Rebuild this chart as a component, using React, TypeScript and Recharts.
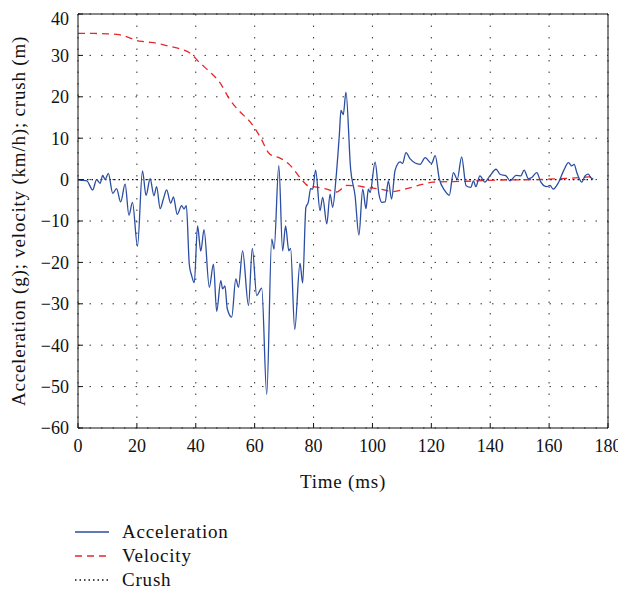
import { CartesianGrid, Legend, Line, LineChart, XAxis, YAxis } from 'recharts';

// time (ms) / acceleration (g) samples
const accelTime = [
  0, 0.7, 3, 5, 6.3, 7.5, 8.4, 9.2, 10.3, 11.8, 13.1, 14.5, 16, 17.3, 18.5, 20.2, 21.9, 23.1, 24.5, 25.8,
  26.7, 27.9, 29, 30.1, 31.5, 32.4, 33.7, 35.2, 36, 36.8, 37.8, 38.6, 39.5, 40.6, 41.7, 42.8, 44.6, 46,
  47.1, 48.5, 49.1, 49.9, 50.7, 52.2, 53.6, 54.5, 55.9, 57.9, 59.2, 60.7, 62.4, 64.1, 65.8, 66.6, 68.2,
  69.5, 70.5, 71.6, 72.2, 73.6, 75.4, 76.3, 77.4, 78.2, 79, 79.7, 80.7, 82.2, 83.1, 84.5, 85.6, 86.5,
  87.6, 88.8, 89.3, 90.1, 91, 92.6, 94.1, 95.4, 96.7, 97.8, 98.6, 99.2, 100.9, 102.2, 103.2, 104.3,
  105.4, 106.5, 107.7, 109.4, 110.2, 111.4, 112.8, 116.2, 117.9, 120.1, 121.3, 122.7, 124.6, 126.1,
  127.5, 128.8, 130.3, 131.8, 133.4, 134.3, 135.1, 136.5, 138.2, 139.7, 142, 143.3, 145.4, 146.7,
  148.8, 150.4, 151.5, 153, 154.1, 155.8, 157.2, 159.2, 160.3, 161.4, 163.2, 164.9, 166.6, 167.7,
  168.5, 169.4, 171.1, 172.2, 173.3, 174.1, 175,
];
const accelG = [
  0, -0.1, -0.3, -2.5, 0, -0.9, 1, 0, 1.5, -3.3, -2.2, -5.4, -1.1, -8.6, -5.5, -16.1, 2.1, -3.8, 0.2, -3.9,
  -1.7, -7, -4.7, -2.5, -5.7, -4.2, -8.4, -6.3, -7.1, -6.3, -20.5, -23.2, -24.9, -11.2, -17.3, -12.1, -26, -20.4,
  -31.8, -24.4, -26.4, -25.7, -31.2, -33.2, -24, -26, -17.2, -30.4, -16.6, -28, -26.2, -51.9, -14.4, -16.8, 3.4,
  -17.2, -11.2, -17.2, -16.6, -36.2, -20.2, -25, -6.7, -5.5, -2.2, -2.3, 2.3, -7.5, -4.3, -10.7, -3.5, -6.7,
  0.1, 11.3, 16.7, 15.7, 21.1, 2.5, -3.9, -13.4, -2.3, -7, -2.3, -3.1, 4.2, -3.5, -5.5, -5.4,
  -0.3, -4.7, 2.3, 4.3, 3.9, 6.5, 5, 3.7, 5.3, 3.9, 5.8, 0.2, -2.7, -3.8,
  1.7, 0.1, 5.5, -1.5, -1.9, -0.3, -1.7, 0.9, -0.6, 0.7, 2.5, 1.3, 0.9, -0.3,
  1, 0.9, 2.3, 0.2, 0.5, 1.7, -0.6, -1.7, -1.4, -2.3, -0.7, 2.1, 4.1, 3.3,
  3.7, 1.7, -0.6, 0.9, 1.3, 0.5, 0.1,
];

// time (ms) / velocity (km/h)
const velTime = [
  0, 5, 10, 14, 17.7, 20, 22.7, 27.8, 31, 34.6, 38, 41.4, 44.8, 48.2, 51.6, 55, 58.4, 61.8, 65.2, 68.6,
  72, 75.4, 78.2, 81, 84.5, 87.8, 91.3, 94.6, 98, 102.6, 107, 111.6, 115.6, 120.7, 132, 143.3, 154.6, 166, 174.4,
];
const velKmh = [
  35.3, 35.3, 35.2, 35, 34.2, 33.6, 33.3, 32.8, 32.2, 31.6, 30.6, 28.2, 26, 23.4, 19.3, 16.4, 14, 10.4, 6.1, 5.2,
  3.5, 0.5, -1.5, -1.8, -2.3, -3, -1.4, -1.5, -1.9, -2.3, -2.9, -2.2, -1.4, -0.6, -0.4, -0.1, 0, 0.3, 0.7,
];

// time (ms) / crush (m)
const crushTime = [0, 50, 100, 150, 175];
const crushM = [0, 0, 0, 0, 0];

const xTicks = [0, 20, 40, 60, 80, 100, 120, 140, 160, 180];
const yTicks = [-60, -50, -40, -30, -20, -10, 0, 10, 20, 30, 40];

const accel = accelTime.map((t, i) => ({ t, v: accelG[i] }));
const velocity = velTime.map((t, i) => ({ t, v: velKmh[i] }));
const crush = crushTime.map((t, i) => ({ t, v: crushM[i] }));

const FONT = '"Liberation Serif", "Times New Roman", serif';
const tickStyle = { fill: '#111', fontSize: 18, fontFamily: FONT };
const titleStyle = { fill: '#111', fontSize: 19, fontFamily: FONT, letterSpacing: 0.8, textAnchor: 'middle' as const };

const legendItems = [
  { name: 'Acceleration', color: '#2b4ea2', dash: undefined },
  { name: 'Velocity', color: '#e8262b', dash: '7 5' },
  { name: 'Crush', color: '#111', dash: '1.5 3' },
];

function ChartLegend() {
  return (
    <div style={{ fontFamily: FONT, fontSize: 19, letterSpacing: 0.8, color: '#111' }}>
      {legendItems.map((it) => (
        <div key={it.name} style={{ display: 'flex', alignItems: 'center', height: 24 }}>
          <svg width={36} height={10} style={{ marginRight: 12 }}>
            <line x1={1} y1={5} x2={35} y2={5} stroke={it.color} strokeWidth={1.3} strokeDasharray={it.dash} />
          </svg>
          <span>{it.name}</span>
        </div>
      ))}
    </div>
  );
}

export default function App() {
  return (
    <LineChart width={618} height={584} margin={{ top: 5, right: 17, left: 0, bottom: 30 }}>
      <CartesianGrid stroke="#333" strokeDasharray="1.5 10" />
      <XAxis
        dataKey="t"
        type="number"
        domain={[0, 180]}
        ticks={xTicks}
        allowDuplicatedCategory={false}
        height={62}
        stroke="#111"
        tickSize={-5}
        tickMargin={16}
        tick={tickStyle}
        label={{ value: 'Time (ms)', position: 'insideBottom', offset: 2, style: titleStyle }}
      />
      <XAxis xAxisId="top" orientation="top" type="number" domain={[0, 180]} ticks={xTicks} height={1} stroke="#111" tickSize={-5} tickFormatter={() => ''} />
      <YAxis
        type="number"
        domain={[-60, 40]}
        ticks={yTicks}
        width={70}
        stroke="#111"
        tickSize={-5}
        tickMargin={14}
        tick={tickStyle}
        tickFormatter={(v: number) => (v < 0 ? `\u2212${Math.abs(v)}` : `${v}`)}
        label={{
          value: 'Acceleration (g); velocity (km/h); crush (m)',
          angle: -90,
          position: 'insideLeft',
          offset: 10,
          style: titleStyle,
        }}
      />
      <YAxis yAxisId="right" orientation="right" type="number" domain={[-60, 40]} ticks={yTicks} width={1} stroke="#111" tickSize={-5} tickFormatter={() => ''} />
      <Legend
        verticalAlign="bottom"
        align="left"
        height={72}
        wrapperStyle={{ top: 512, left: 66, bottom: 'auto', width: 300 }}
        content={() => <ChartLegend />}
      />
      <Line data={crush} dataKey="v" name="Crush" type="linear" stroke="#111" strokeWidth={1.2} strokeDasharray="1.5 3" dot={false} isAnimationActive={false} />
      <Line data={velocity} dataKey="v" name="Velocity" type="monotone" stroke="#e8262b" strokeWidth={1.3} strokeDasharray="7 5" dot={false} isAnimationActive={false} />
      <Line data={accel} dataKey="v" name="Acceleration" type="monotone" stroke="#2b4ea2" strokeWidth={1.3} dot={false} isAnimationActive={false} />
    </LineChart>
  );
}
